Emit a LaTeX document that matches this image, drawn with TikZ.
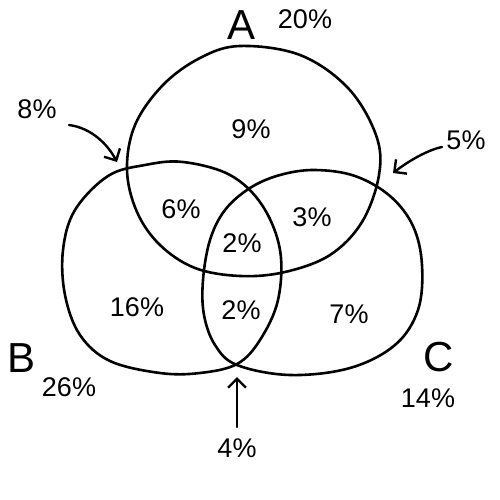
\documentclass[tikz,border=0pt]{standalone}
\usepackage{fontspec}
\setmainfont{Liberation Sans}
\usetikzlibrary{arrows.meta}
\tikzset{
  set/.style={line width=2.6pt, line join=round},
  pct/.style={inner sep=0pt, font=\fontsize{27}{30}\selectfont},
  setname/.style={inner sep=0pt, font=\fontsize{42}{46}\selectfont},
  pointer/.style={line width=2.4pt, line cap=round, -{Straight Barb[length=9pt,width=18pt,line width=2.4pt]}}
}
\begin{document}
\begin{tikzpicture}[x=1pt,y=-1pt]
\useasboundingbox (0,0) rectangle (500,500);
% set A
\draw[set] plot[smooth cycle, tension=0.6] coordinates {
 (240,46) (300,55) (348,88) (376,135) (379,175) (362,222) (330,255) (285,272)
 (240,276) (195,268) (160,245) (137,212) (127,170) (135,125) (163,85) (200,58)};
% set B
\draw[set] plot[smooth cycle, tension=0.6] coordinates {
 (183,162) (230,175) (262,205) (280,250) (278,300) (260,340) (237,364) (200,373)
 (160,373) (110,361) (80,335) (65,295) (63,250) (75,210) (108,176) (145,165)};
% set C
\draw[set] plot[smooth cycle, tension=0.6] coordinates {
 (237,365) (215,345) (204,315) (203,280) (210,240) (225,210) (250,188) (280,175)
 (315,170) (355,176) (390,196) (413,226) (422,265) (418,310) (395,345) (350,368) (290,375)};
% labels
\node[setname] (nA) at (242,25) {A};
\node[setname] (nB) at (22,358) {B};
\node[setname] (nC) at (439,357) {C};
\node[pct] (tA) at (305,19) {20\%};
\node[pct] (tB) at (69,387) {26\%};
\node[pct] (tC) at (428,398) {14\%};
\node[pct] (r9) at (251,129) {9\%};
\node[pct] (r6) at (181,209) {6\%};
\node[pct] (r3) at (312,217) {3\%};
\node[pct] (r2a) at (242,243) {2\%};
\node[pct] (r16) at (137,307) {16\%};
\node[pct] (r2b) at (241,310) {2\%};
\node[pct] (r7) at (349,314) {7\%};
\node[pct] (l8) at (37,109) {8\%};
\node[pct] (l5) at (466,140) {5\%};
\node[pct] (l4) at (237,448) {4\%};
% pointers
\coordinate (s8) at (69,125);
\coordinate (e8) at (117,162);
\coordinate (s5) at (442,147);
\coordinate (e5) at (393,173);
\coordinate (s4) at (237,427);
\coordinate (e4) at (237,377);
\draw[pointer] (s8) .. controls (92,128) and (108,145) .. (e8);
\draw[pointer] (s5) .. controls (428,150) and (410,160) .. (e5);
\draw[pointer] (s4) -- (e4);
\end{tikzpicture}
\end{document}
